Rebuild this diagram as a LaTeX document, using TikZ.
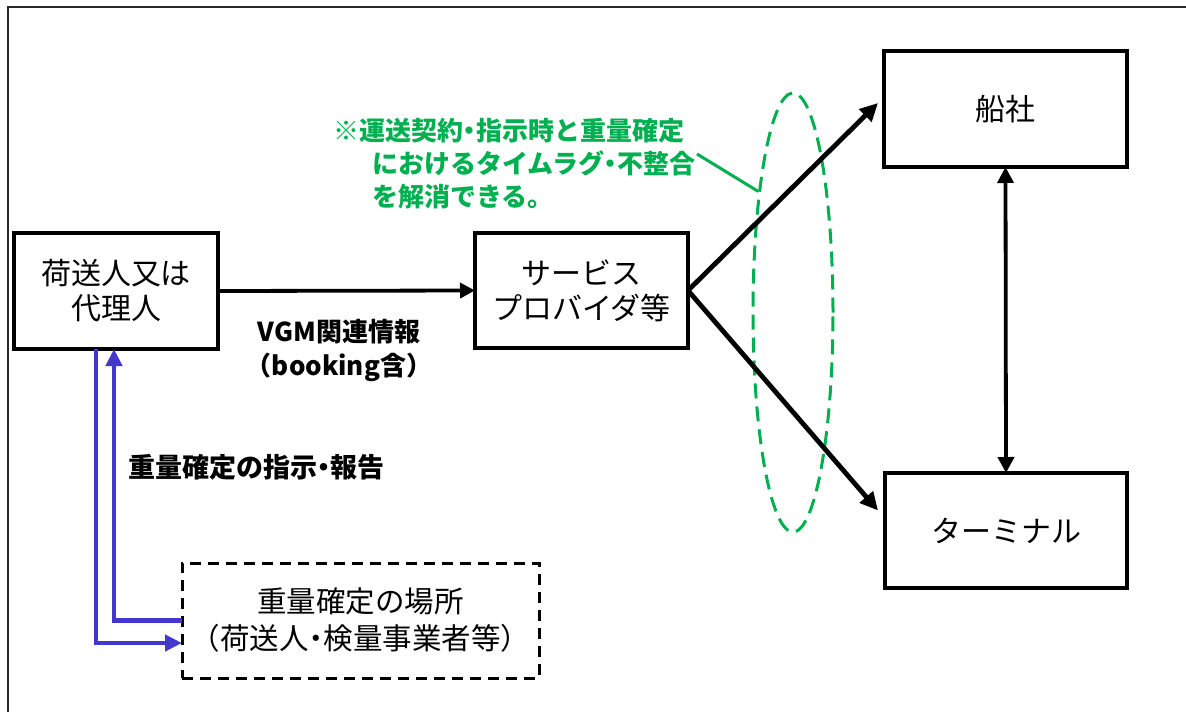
\documentclass[tikz,border=0pt]{standalone}
\usepackage{fontspec}
\setmainfont{Noto Sans CJK JP}
\usetikzlibrary{arrows.meta,shapes.geometric}
\definecolor{notegreen}{RGB}{0,176,80}
\definecolor{flowblue}{RGB}{66,56,204}
\definecolor{framegray}{RGB}{40,40,40}
\newcommand\nkg{\kern-0.25em・\kern-0.25em}
\tikzset{
  box/.style={draw, line width=3.6pt, inner sep=0pt, outer sep=0pt, align=center,
    font=\fontsize{30pt}{35pt}\selectfont},
  dbox/.style={box, line width=3pt, dash pattern=on 11pt off 7pt,
    font=\fontsize{29.5pt}{37pt}\selectfont},
  lbl/.style={inner sep=0pt, align=center, font=\bfseries\fontsize{26pt}{34pt}\selectfont},
  note/.style={inner sep=0pt, align=left, text=notegreen,
    font=\bfseries\fontsize{26pt}{33pt}\selectfont},
  blk/.style={line width=4.8pt, -{Triangle[length=18pt,width=17pt]}},
  hblk/.style={line width=3.8pt, -{Triangle[length=15pt,width=15pt]}},
  vblk/.style={line width=3.8pt, {Triangle[length=16pt,width=16pt]}-{Triangle[length=16pt,width=16pt]}},
  blu/.style={draw=flowblue, line width=4.5pt, -{Triangle[length=17pt,width=16pt]}, color=flowblue},
  oval/.style={draw=notegreen, ellipse, line width=3pt, dash pattern=on 15pt off 8pt, inner sep=0pt}
}
\begin{document}
\begin{tikzpicture}[x=1pt,y=-1pt]
\useasboundingbox (0,0) rectangle (1186,712);
\fill[white] (0,0) rectangle (1186,712);
\draw[framegray, line width=2.8pt] (8,712) -- (8,7) -- (1186,7);

\node[box, minimum width=204pt, minimum height=116pt] (A) at (116,291) {荷送人又は\\代理人};
\node[box, minimum width=213pt, minimum height=115pt] (B) at (581.5,290.5) {サービス\\プロバイダ等};
\node[box, minimum width=243pt, minimum height=116pt] (C) at (1005.5,109) {船社};
\node[box, minimum width=242pt, minimum height=115pt] (D) at (1006,530.5) {ターミナル};
\node[dbox, minimum width=357pt, minimum height=115pt] (E) at (360.5,620.5) {重量確定の場所\\（荷送人\nkg 検量事業者等）};

\node[oval, minimum width=80pt, minimum height=439pt] (O) at (793,312.5) {};

\node[lbl] (L1) at (339,350) {VGM関連情報\\（booking含）};
\node[lbl, anchor=west, font=\bfseries\fontsize{27pt}{34pt}\selectfont] (L2) at (128,467) {重量確定の指示\nkg 報告};
\node[note, anchor=west] (N) at (333,164) {※運送契約\nkg 指示時と重量確定\\\hspace*{39pt}におけるタイムラグ\nkg 不整合\\\hspace*{39pt}を解消できる。};

\coordinate (lead) at (697,154);
\draw[notegreen, line width=3pt] (lead) -- (O.106);

\draw[hblk] (A.east) -- (B.west);
\draw[blk] (B.east) -- ([xshift=-6pt,yshift=6pt]C.west);
\draw[blk] (B.east) -- ([xshift=-7pt,yshift=20pt]D.west);
\draw[vblk] (C.south) -- (D.north);

\draw[blu] ([xshift=-20pt]A.south) |- ([yshift=-22.5pt]E.west);
\draw[blu] (E.west) -| ([xshift=-2pt]A.south);
\end{tikzpicture}
\end{document}
